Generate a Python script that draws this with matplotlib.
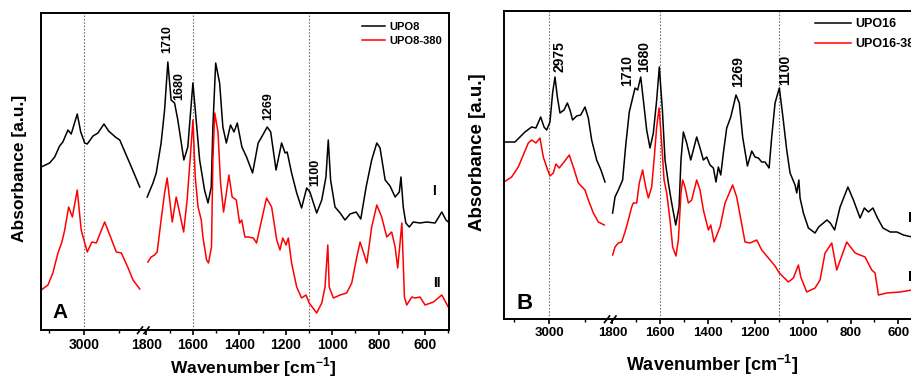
import matplotlib
matplotlib.use("Agg")
import matplotlib.pyplot as plt
from matplotlib.lines import Line2D

plt.rcParams['font.family'] = ['Liberation Sans', 'DejaVu Sans']
plt.rcParams['font.weight'] = 'bold'
plt.rcParams['mathtext.fontset'] = 'custom'
plt.rcParams['mathtext.rm'] = 'Liberation Sans:bold'
plt.rcParams['mathtext.bf'] = 'Liberation Sans:bold'

# ---- panel A: UPO8 / UPO8-380 ----
a_k_hi_wn = [3184, 3148, 3126, 3105, 3091, 3069, 3055, 3029, 3014, 2997, 2986, 2961, 2940, 2914,
             2894, 2865, 2846, 2822, 2796, 2760]
a_k_hi = [163, 167, 173, 184, 188, 200, 196, 216, 198, 187, 186, 194, 197, 206, 199, 193, 190, 177, 163, 143]
a_r_hi_wn = [3184, 3155, 3134, 3112, 3095, 3083, 3066, 3050, 3029, 3012, 2986, 2966, 2947, 2911,
             2889, 2861, 2839, 2810, 2789, 2760]
a_r_hi = [40, 45, 57, 77, 88, 100, 123, 113, 140, 100, 78, 88, 87, 108, 95, 78, 77, 62, 50, 41]

a_k_lo_wn = [1797, 1772, 1758, 1737, 1722, 1708, 1694, 1679, 1665, 1639, 1622, 1600, 1586, 1571, 1550,
             1535, 1521, 1514, 1502, 1485, 1471, 1456, 1438, 1423, 1409, 1389, 1369, 1343, 1319, 1304,
             1280, 1265, 1242, 1218, 1203, 1194, 1175, 1153, 1132, 1110, 1096, 1067, 1045, 1027, 1017,
             1007, 988, 966, 945, 923, 897, 877, 854, 830, 808, 794, 772, 751, 729, 711,
             704, 694, 683, 668, 651, 622, 593, 557, 528, 510, 495]
a_k_lo = [133, 147, 157, 187, 220, 268, 230, 227, 210, 170, 183, 247, 210, 170, 140,
          127, 143, 203, 267, 247, 203, 187, 205, 198, 207, 183, 173, 157, 187, 193,
          203, 198, 160, 187, 177, 178, 157, 137, 122, 142, 138, 117, 130, 153, 190,
          150, 123, 117, 110, 116, 118, 111, 143, 170, 187, 182, 150, 144, 133, 138,
          153, 123, 107, 103, 108, 107, 108, 107, 118, 110, 107]
a_r_lo_wn = [1794, 1780, 1765, 1754, 1737, 1722, 1711, 1700, 1689, 1672, 1657, 1640, 1625, 1610, 1600,
             1590, 1578, 1564, 1557, 1541, 1533, 1520, 1514, 1506, 1492, 1481, 1468, 1456, 1445, 1431,
             1413, 1399, 1390, 1376, 1362, 1340, 1326, 1304, 1283, 1261, 1239, 1225, 1213, 1199, 1189,
             1175, 1153, 1132, 1113, 1099, 1067, 1045, 1031, 1019, 1013, 995, 966, 938, 916, 894,
             880, 866, 851, 830, 808, 787, 765, 744, 729, 718, 700, 689, 679, 657, 643,
             622, 600, 564, 528, 500]
a_r_lo = [68, 73, 75, 78, 110, 137, 152, 130, 108, 133, 117, 98, 130, 177, 210,
          153, 123, 110, 93, 70, 67, 83, 170, 217, 198, 147, 118, 137, 155, 133,
          130, 107, 110, 93, 93, 92, 87, 110, 132, 123, 90, 80, 92, 85, 92,
          67, 43, 32, 35, 27, 17, 27, 43, 85, 43, 32, 35, 37, 47, 73,
          88, 78, 67, 103, 125, 113, 93, 98, 83, 62, 107, 33, 25, 33, 32,
          33, 25, 28, 35, 23]

# ---- panel B: UPO16 / UPO16-380 ----
b_k_hi_wn = [3186, 3144, 3123, 3102, 3074, 3056, 3036, 3022, 3011, 2997, 2986, 2976, 2966, 2955,
             2938, 2924, 2913, 2902, 2885, 2868, 2850, 2836, 2822, 2801, 2783, 2766]
b_k_hi = [177, 177, 182, 187, 192, 191, 202, 192, 189, 197, 226, 242, 222, 206,
          209, 216, 209, 199, 203, 204, 212, 201, 179, 159, 149, 137]
b_r_hi_wn = [3190, 3158, 3130, 3109, 3088, 3074, 3056, 3039, 3025, 3011, 2997, 2983, 2972, 2958,
             2938, 2916, 2899, 2878, 2850, 2836, 2815, 2794, 2769]
b_r_hi = [137, 142, 152, 164, 176, 179, 176, 181, 162, 152, 143, 146, 155, 151,
          157, 164, 152, 136, 129, 119, 106, 97, 94]

b_k_lo_wn = [1799, 1789, 1775, 1757, 1743, 1729, 1715, 1705, 1694, 1681, 1670, 1656, 1642, 1628, 1614,
             1603, 1590, 1579, 1565, 1551, 1534, 1520, 1512, 1502, 1488, 1471, 1446, 1432, 1418, 1404,
             1390, 1376, 1365, 1355, 1345, 1334, 1320, 1303, 1281, 1267, 1253, 1233, 1215, 1201, 1187,
             1173, 1159, 1142, 1131, 1117, 1099, 1084, 1068, 1054, 1033, 1026, 1017, 1012, 998, 977,
             949, 934, 899, 885, 867, 844, 811, 788, 760, 742, 725, 706, 689, 664, 633,
             605, 578, 542, 500]
b_k_lo = [106, 122, 129, 139, 176, 207, 221, 231, 229, 242, 219, 189, 171, 186, 219,
          252, 209, 159, 136, 116, 94, 112, 159, 187, 176, 159, 182, 171, 159, 162,
          154, 151, 137, 152, 144, 166, 191, 202, 224, 216, 182, 153, 168, 162, 161,
          157, 157, 151, 182, 216, 231, 202, 169, 146, 134, 126, 139, 121, 106, 91,
          86, 92, 99, 96, 89, 112, 132, 119, 101, 111, 107, 111, 102, 91, 87,
          87, 84, 82, 81]
b_r_lo_wn = [1799, 1789, 1775, 1761, 1747, 1733, 1719, 1712, 1698, 1687, 1673, 1660, 1649, 1635, 1624,
             1614, 1604, 1593, 1583, 1572, 1558, 1547, 1533, 1523, 1512, 1505, 1495, 1481, 1467, 1446,
             1432, 1418, 1397, 1387, 1373, 1348, 1327, 1295, 1278, 1243, 1222, 1194, 1173, 1145, 1117,
             1099, 1061, 1040, 1019, 1009, 984, 949, 928, 907, 879, 858, 816, 781, 739, 711,
             697, 683, 648, 592, 542, 500]
b_r_lo = [64, 72, 76, 77, 87, 99, 112, 116, 116, 136, 149, 132, 121, 132, 162,
          192, 211, 176, 139, 126, 99, 72, 63, 79, 126, 139, 132, 116, 119, 139,
          129, 109, 89, 94, 77, 92, 116, 134, 122, 77, 76, 79, 69, 61, 53,
          46, 37, 41, 54, 42, 27, 31, 39, 66, 76, 49, 77, 66, 62, 49,
          46, 24, 26, 27, 29, 29]

a_peaks = [("1710", 1712, 291), ("1680", 1660, 244), ("1269", 1277, 224), ("1100", 1074, 158)]
b_peaks_hi = [("2975", 2955, 262)]
b_peaks_lo = [("1710", 1737, 248), ("1680", 1667, 263), ("1269", 1274, 247), ("1100", 1075, 249)]

W, H = 912, 379
fig = plt.figure(figsize=(W / 100, H / 100), dpi=100)


def rect(x0, y0, x1, y1):
    return [x0 / W, 1 - y1 / H, (x1 - x0) / W, (y1 - y0) / H]


def panel(x0, brk, x1, top, bot, lim_hi, lim_lo, ymax, series, names, tick_fs, leg, letter):
    axl = fig.add_axes(rect(x0, top, brk, bot))
    axr = fig.add_axes(rect(brk, top, x1, bot))
    for (wh, yh, wl, yl, c), nm in zip(series, names):
        axl.plot(wh, yh, color=c, lw=1.1)
        axr.plot(wl, yl, color=c, lw=1.1, label=nm)
    axl.set_xlim(*lim_hi)
    axr.set_xlim(*lim_lo)
    for ax in (axl, axr):
        ax.set_ylim(0, ymax)
        ax.set_yticks([])
        for s in ax.spines.values():
            s.set_linewidth(1.4)
        ax.tick_params(axis='x', which='major', direction='out', length=3.5, width=1.2,
                       labelsize=tick_fs, pad=2)
        ax.tick_params(axis='x', which='minor', direction='out', length=2, width=1.0)
    axl.spines['right'].set_visible(False)
    axr.spines['left'].set_visible(False)
    axl.set_xticks([3000])
    axl.set_xticks([3150, 2850], minor=True)
    axr.set_xticks(list(range(1800, 500, -200)))
    axr.set_xticks(list(range(1700, 400, -200)), minor=True)
    dot = dict(color='0.45', lw=0.8, ls=(0, (1.5, 1.5)), zorder=0)
    axl.axvline(3000, **dot)
    axr.axvline(1600, **dot)
    axr.axvline(1100, **dot)
    axl.text(letter[1], letter[2], letter[0], transform=axl.transAxes, fontsize=letter[3],
             fontweight='bold', va='baseline')
    for cx in (brk - 3, brk + 3.5):
        fig.add_artist(Line2D([(cx - 2.5) / W, (cx + 2.5) / W], [1 - (bot + 3.5) / H, 1 - (bot - 3) / H],
                              color='k', lw=1.2))
    axr.legend(loc='upper left', bbox_to_anchor=(leg[0] / W, 1 - leg[1] / H),
               bbox_transform=fig.transFigure, frameon=False, fontsize=leg[2],
               handlelength=leg[3], handletextpad=0.35, labelspacing=leg[4],
               borderpad=0, borderaxespad=0)
    return axl, axr


al, ar = panel(41, 143, 449, 13, 330, (3185, 2746), (1815, 497), 317,
               [(a_k_hi_wn, a_k_hi, a_k_lo_wn, a_k_lo, 'black'),
                (a_r_hi_wn, a_r_hi, a_r_lo_wn, a_r_lo, '#ff0000')],
               ['UPO8', 'UPO8-380'], 10, (362, 22, 8, 2.1, 0.35), ('A', 0.115, 0.037, 15))
for t, x, y in a_peaks:
    ar.text(x, y, t, rotation=90, ha='center', va='center', fontsize=9, fontweight='bold')
ar.text(570, 139, 'I', fontsize=10, fontweight='bold', va='center')
ar.text(567, 47, 'II', fontsize=10, fontweight='bold', va='center')

bl, br = panel(504, 610, 922, 11, 319, (3190, 2745), (1810, 500), 308,
               [(b_k_hi_wn, b_k_hi, b_k_lo_wn, b_k_lo, 'black'),
                (b_r_hi_wn, b_r_hi, b_r_lo_wn, b_r_lo, '#ff0000')],
               ['UPO16', 'UPO16-380'], 9.5, (815, 18, 9, 2.9, 0.65), ('B', 0.12, 0.031, 16))
for t, x, y in b_peaks_hi:
    bl.text(x, y, t, rotation=90, ha='center', va='center', fontsize=10, fontweight='bold')
for t, x, y in b_peaks_lo:
    br.text(x, y, t, rotation=90, ha='center', va='center', fontsize=10, fontweight='bold')
br.text(558, 101, 'I', fontsize=11, fontweight='bold', va='center')
br.text(558, 42, 'II', fontsize=11, fontweight='bold', va='center')

xl = r'Wavenumber [cm$^{\mathbf{-1}}$]'
fig.text(253 / W, 1 - 373.5 / H, xl, ha='center', va='baseline', fontsize=12.5, fontweight='bold')
fig.text(712 / W, 1 - 371 / H, xl, ha='center', va='baseline', fontsize=13, fontweight='bold')
fig.text(20 / W, 1 - 168.5 / H, 'Absorbance [a.u.]', rotation=90, ha='center', va='center',
         fontsize=12.5, fontweight='bold')
fig.text(477.5 / W, 1 - 152.5 / H, 'Absorbance [a.u.]', rotation=90, ha='center', va='center',
         fontsize=13.5, fontweight='bold')

fig.savefig('out.png', dpi=100)
